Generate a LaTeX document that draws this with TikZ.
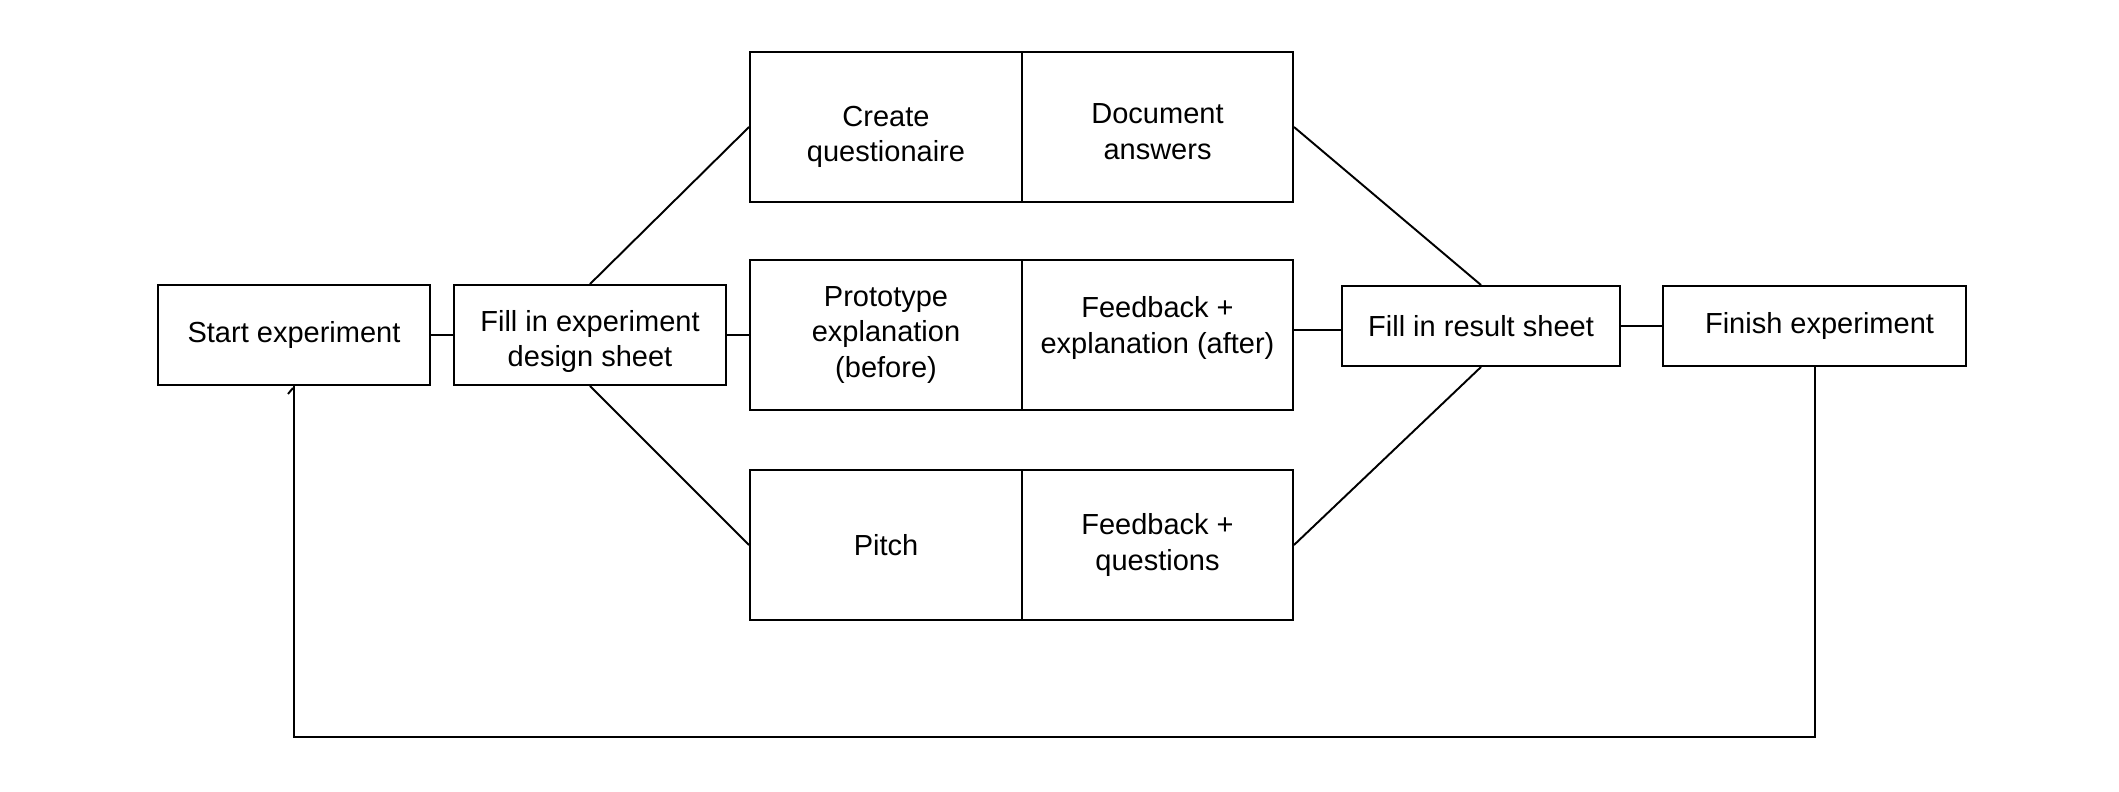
\documentclass[tikz,border=0pt]{standalone}
\usepackage{fontspec}
\setmainfont{Liberation Sans}
\begin{document}
\begin{tikzpicture}[x=0.01cm,y=-0.01cm,
  box/.style={draw=black,line width=0.55pt,rectangle,inner sep=0pt,align=center,
    font=\fontsize{8.25}{10.1}\selectfont},
  lbl/.style={inner sep=0pt,align=center,font=\fontsize{8.25}{10.1}\selectfont},
  conn/.style={draw=black,line width=0.55pt}]
\useasboundingbox (0,0) rectangle (2119,791);
% boxes
\node[box,minimum width=272*0.01cm,minimum height=100*0.01cm] (start) at (294,335) {Start experiment};
\node[box,minimum width=272*0.01cm,minimum height=100*0.01cm,
  label={[lbl,yshift=-0.065cm]center:{Fill in experiment\\design sheet}}] (fds) at (590,335) {};
\node[box,minimum width=272*0.01cm,minimum height=150*0.01cm,
  label={[lbl,yshift=-0.10cm]center:{Create\\questionaire}}] (cq) at (886,127) {};
\node[box,minimum width=271*0.01cm,minimum height=150*0.01cm,
  label={[lbl,yshift=-0.045cm]center:{Document\\answers}}] (da) at (1157.5,127) {};
\node[box,minimum width=272*0.01cm,minimum height=150*0.01cm] (pe) at (886,335) {Prototype\\explanation\\(before)};
\node[box,minimum width=271*0.01cm,minimum height=150*0.01cm,
  label={[lbl,yshift=0.07cm]center:{Feedback +\\explanation (after)}}] (fe) at (1157.5,335) {};
\node[box,minimum width=272*0.01cm,minimum height=150*0.01cm] (pitch) at (886,545) {Pitch};
\node[box,minimum width=271*0.01cm,minimum height=150*0.01cm] (fq) at (1157.5,545) {Feedback +\\questions};
\node[box,minimum width=278*0.01cm,minimum height=80*0.01cm] (res) at (1481,326) {Fill in result sheet};
\node[box,minimum width=303*0.01cm,minimum height=80*0.01cm] (fin) at (1814.5,326) {\hspace{0.1cm}Finish experiment};
% connectors
\draw[conn] (start.east) -- (fds.west);
\draw[conn] (fds.north) -- (cq.west);
\draw[conn] (fds.east) -- (pe.west);
\draw[conn] (fds.south) -- (pitch.west);
\draw[conn] (da.east) -- (res.north);
\draw[conn] (fe.east |- 0,330) -- (res.west |- 0,330);
\draw[conn] (fq.east) -- (res.south);
\draw[conn] (res.east) -- (fin.west);
\draw[conn] (fin.south) -- (fin.south |- 0,737) -- (start.south |- 0,737) -- (start.south);
\draw[conn] ([shift={(-6,8)}]start.south) -- ([shift={(-1,2)}]start.south);
\end{tikzpicture}
\end{document}
